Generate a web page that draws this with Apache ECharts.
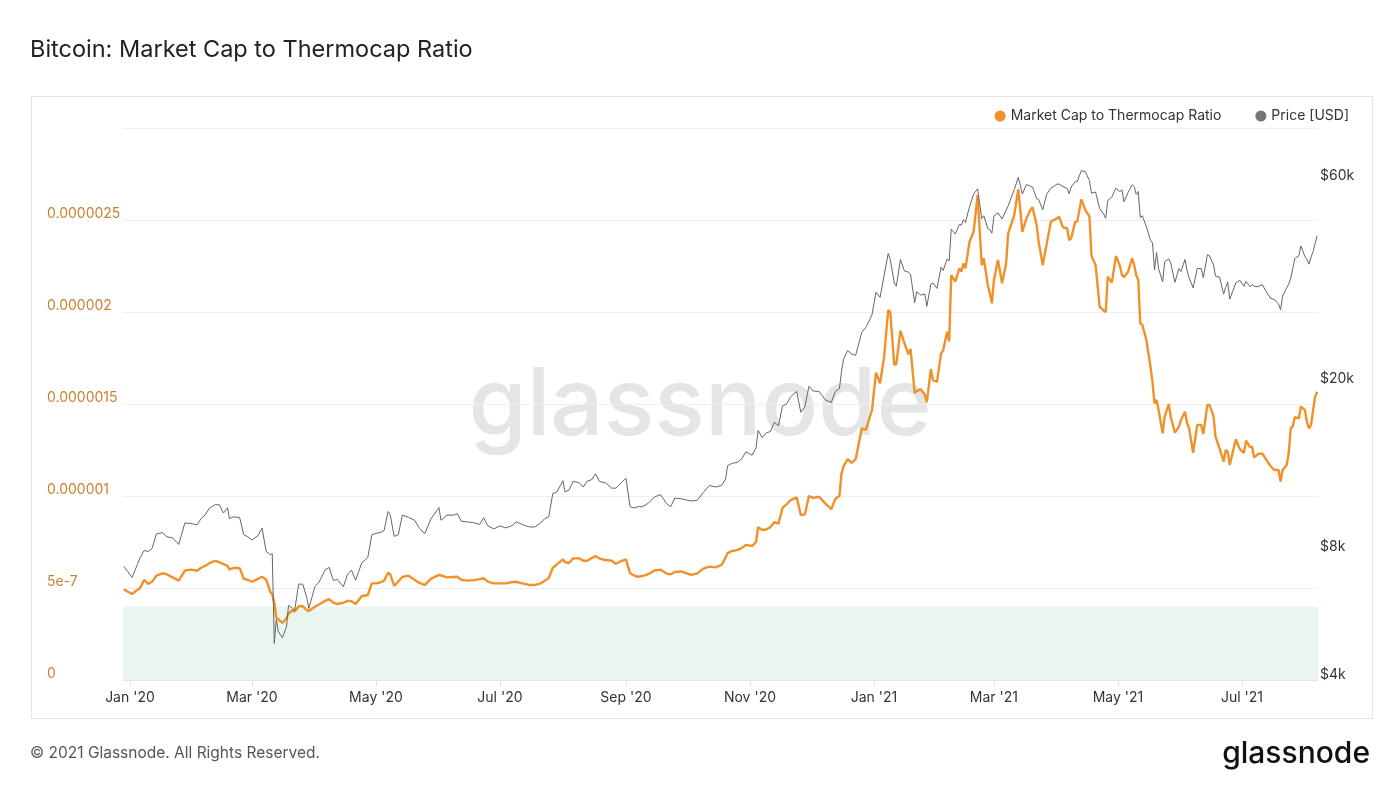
<!DOCTYPE html>
<html>
<head>
<meta charset="utf-8">
<title>Bitcoin: Market Cap to Thermocap Ratio</title>
<script src="https://cdn.jsdelivr.net/npm/echarts@6.0.0/dist/echarts.min.js"></script>
<style>
  html, body { margin: 0; padding: 0; background: #fff; }
  #chart { width: 1400px; height: 788px; }
</style>
</head>
<body>
<div id="chart"></div>
<script>
// values (price in USD, ratio in units of 1e-6)
var dates = [
  '2019-12-29','2019-12-31','2020-01-02','2020-01-04','2020-01-06','2020-01-08','2020-01-10','2020-01-12','2020-01-14','2020-01-17',
  '2020-01-19','2020-01-22','2020-01-25','2020-01-28','2020-01-31','2020-02-03','2020-02-05','2020-02-07','2020-02-09','2020-02-12',
  '2020-02-14','2020-02-16','2020-02-18','2020-02-19','2020-02-21','2020-02-24','2020-02-26','2020-02-28','2020-03-01','2020-03-04',
  '2020-03-06','2020-03-08','2020-03-10','2020-03-11','2020-03-12','2020-03-13','2020-03-14','2020-03-16','2020-03-18','2020-03-19',
  '2020-03-21','2020-03-22','2020-03-24','2020-03-26','2020-03-28','2020-03-29','2020-04-01','2020-04-03','2020-04-06','2020-04-08',
  '2020-04-10','2020-04-12','2020-04-15','2020-04-17','2020-04-19','2020-04-21','2020-04-24','2020-04-27','2020-04-29','2020-05-01',
  '2020-05-03','2020-05-05','2020-05-07','2020-05-08','2020-05-10','2020-05-12','2020-05-14','2020-05-17','2020-05-20','2020-05-22',
  '2020-05-25','2020-05-28','2020-06-01','2020-06-02','2020-06-05','2020-06-08','2020-06-10','2020-06-12','2020-06-15','2020-06-18',
  '2020-06-21','2020-06-23','2020-06-25','2020-06-28','2020-07-01','2020-07-04','2020-07-07','2020-07-09','2020-07-12','2020-07-15',
  '2020-07-18','2020-07-21','2020-07-23','2020-07-25','2020-07-27','2020-07-29','2020-08-01','2020-08-02','2020-08-04','2020-08-06',
  '2020-08-09','2020-08-11','2020-08-13','2020-08-15','2020-08-17','2020-08-19','2020-08-22','2020-08-25','2020-08-27','2020-08-30',
  '2020-09-01','2020-09-03','2020-09-05','2020-09-07','2020-09-09','2020-09-12','2020-09-15','2020-09-18','2020-09-21','2020-09-23',
  '2020-09-25','2020-09-28','2020-10-01','2020-10-03','2020-10-06','2020-10-09','2020-10-12','2020-10-15','2020-10-18','2020-10-20',
  '2020-10-21','2020-10-23','2020-10-26','2020-10-28','2020-10-30','2020-11-02','2020-11-04','2020-11-05','2020-11-07','2020-11-09',
  '2020-11-11','2020-11-13','2020-11-15','2020-11-17','2020-11-19','2020-11-21','2020-11-24','2020-11-26','2020-11-28','2020-11-30',
  '2020-12-02','2020-12-05','2020-12-08','2020-12-11','2020-12-13','2020-12-15','2020-12-16','2020-12-17','2020-12-19','2020-12-21',
  '2020-12-23','2020-12-26','2020-12-28','2020-12-31','2021-01-02','2021-01-04','2021-01-06','2021-01-08','2021-01-09','2021-01-11',
  '2021-01-12','2021-01-14','2021-01-16','2021-01-18','2021-01-19','2021-01-21','2021-01-22','2021-01-24','2021-01-26','2021-01-27',
  '2021-01-29','2021-01-30','2021-02-01','2021-02-03','2021-02-04','2021-02-06','2021-02-07','2021-02-08','2021-02-10','2021-02-12',
  '2021-02-13','2021-02-14','2021-02-15','2021-02-17','2021-02-19','2021-02-21','2021-02-23','2021-02-24','2021-02-26','2021-02-27',
  '2021-02-28','2021-03-01','2021-03-03','2021-03-05','2021-03-07','2021-03-08','2021-03-11','2021-03-13','2021-03-15','2021-03-17',
  '2021-03-19','2021-03-20','2021-03-22','2021-03-23','2021-03-25','2021-03-27','2021-03-29','2021-04-01','2021-04-02','2021-04-04',
  '2021-04-06','2021-04-07','2021-04-08','2021-04-10','2021-04-11','2021-04-13','2021-04-15','2021-04-17','2021-04-18','2021-04-20',
  '2021-04-22','2021-04-24','2021-04-25','2021-04-26','2021-04-28','2021-04-30','2021-05-02','2021-05-03','2021-05-04','2021-05-06',
  '2021-05-08','2021-05-09','2021-05-10','2021-05-11','2021-05-12','2021-05-13','2021-05-15','2021-05-17','2021-05-18','2021-05-19',
  '2021-05-20','2021-05-21','2021-05-23','2021-05-24','2021-05-26','2021-05-27','2021-05-29','2021-05-31','2021-06-01','2021-06-03',
  '2021-06-04','2021-06-05','2021-06-07','2021-06-09','2021-06-11','2021-06-12','2021-06-14','2021-06-15','2021-06-17','2021-06-18',
  '2021-06-20','2021-06-22','2021-06-23','2021-06-24','2021-06-25','2021-06-28','2021-06-30','2021-07-02','2021-07-03','2021-07-05',
  '2021-07-06','2021-07-07','2021-07-09','2021-07-11','2021-07-13','2021-07-15','2021-07-17','2021-07-19','2021-07-20','2021-07-21',
  '2021-07-23','2021-07-24','2021-07-25','2021-07-26','2021-07-27','2021-07-29','2021-07-30','2021-08-01','2021-08-02','2021-08-03',
  '2021-08-04','2021-08-05','2021-08-06','2021-08-07'
];

var price = [
  7400,7200,6980,7350,7770,8080,8030,8190,8840,8900,
  8700,8650,8350,9380,9350,9280,9610,9800,10150,10360,
  10350,9900,10180,9600,9700,9650,8800,8700,8550,8760,
  9120,8040,7900,7940,4880,5550,5200,5030,5340,6000,
  5900,5830,6730,6730,6250,5900,6640,6800,7270,7370,
  6870,6900,6640,7100,7260,6870,7550,7770,8800,8870,
  8900,9000,9980,9810,8720,8800,9790,9670,9520,9170,
  8840,9580,10200,9520,9790,9780,9870,9470,9430,9400,
  9300,9650,9240,9080,9230,9130,9250,9430,9300,9190,
  9170,9380,9600,9700,11000,11100,11800,11100,11220,11750,
  11680,11400,11780,11850,12250,11750,11660,11330,11330,11700,
  11950,10250,10170,10250,10240,10440,10800,10940,10420,10240,
  10740,10700,10620,10570,10600,11060,11500,11400,11500,11900,
  12800,12950,13050,13300,13800,13550,14100,15500,14900,15300,
  15400,16200,15900,17700,17900,18600,19150,17100,17600,19700,
  19200,19150,18300,18050,19150,19450,21300,22800,23900,23470,
  23300,26400,27100,29000,32800,31900,36000,40500,39200,34500,
  33900,39200,36800,36600,36100,31000,32900,32300,32500,30400,
  34300,34500,33500,37600,36900,39300,38900,46200,45000,47400,
  47200,48700,47900,52200,55900,57500,48900,49700,46300,46100,
  45200,49600,50500,48800,51200,52400,57300,61200,55900,58900,
  58300,58100,54500,54300,51300,55900,57700,59000,59000,58200,
  57600,56000,58100,59800,59800,63500,63100,60100,56200,56500,
  51700,50100,49000,54000,55000,57700,56600,57200,53600,56400,
  58800,58200,55800,56700,49200,49700,46800,43500,42900,37000,
  40700,37300,34700,38700,39300,38400,34600,37300,36700,39200,
  36900,35500,33600,37300,37300,35500,40200,40000,38100,35800,
  35600,32500,33700,34700,31600,34500,35000,33900,34800,33800,
  34200,33900,33800,34200,32900,31800,31500,30800,29800,32100,
  33600,34300,35400,37300,39400,40000,42200,39800,39200,38200,
  39700,40900,42800,44600
];

var ratioE6 = [
  0.493,0.480,0.467,0.485,0.500,0.545,0.522,0.535,0.567,0.580,
  0.575,0.558,0.540,0.595,0.600,0.594,0.610,0.620,0.635,0.647,
  0.640,0.630,0.620,0.600,0.610,0.607,0.550,0.545,0.534,0.550,
  0.561,0.545,0.480,0.465,0.420,0.340,0.330,0.310,0.335,0.360,
  0.380,0.372,0.400,0.402,0.380,0.375,0.398,0.410,0.430,0.440,
  0.420,0.413,0.420,0.430,0.428,0.413,0.455,0.462,0.525,0.525,
  0.530,0.540,0.583,0.575,0.511,0.535,0.560,0.567,0.545,0.530,
  0.516,0.550,0.571,0.568,0.558,0.560,0.561,0.545,0.540,0.543,
  0.548,0.553,0.535,0.525,0.525,0.525,0.532,0.534,0.525,0.518,
  0.516,0.525,0.540,0.553,0.610,0.628,0.656,0.640,0.636,0.661,
  0.661,0.648,0.648,0.662,0.674,0.660,0.652,0.648,0.632,0.648,
  0.656,0.580,0.568,0.561,0.565,0.575,0.595,0.600,0.578,0.575,
  0.587,0.590,0.580,0.572,0.578,0.605,0.616,0.612,0.625,0.665,
  0.690,0.700,0.707,0.718,0.734,0.728,0.750,0.830,0.815,0.818,
  0.830,0.858,0.850,0.935,0.955,0.978,0.993,0.897,0.900,1.000,
  0.990,0.996,0.960,0.928,0.985,1.000,1.120,1.160,1.200,1.180,
  1.200,1.368,1.360,1.467,1.670,1.613,1.757,2.011,2.000,1.712,
  1.717,1.898,1.830,1.770,1.800,1.560,1.570,1.580,1.550,1.510,
  1.690,1.630,1.620,1.775,1.790,1.893,1.840,2.200,2.165,2.237,
  2.219,2.264,2.237,2.382,2.436,2.636,2.255,2.292,2.147,2.100,
  2.047,2.174,2.283,2.156,2.264,2.427,2.527,2.667,2.436,2.509,
  2.554,2.569,2.473,2.382,2.255,2.373,2.491,2.509,2.518,2.460,
  2.455,2.391,2.400,2.491,2.491,2.612,2.554,2.518,2.304,2.255,
  2.029,2.007,2.000,2.192,2.160,2.304,2.250,2.200,2.190,2.219,
  2.292,2.255,2.200,2.174,1.939,1.930,1.848,1.703,1.620,1.504,
  1.522,1.467,1.341,1.431,1.500,1.431,1.344,1.377,1.413,1.458,
  1.395,1.368,1.235,1.386,1.386,1.337,1.495,1.495,1.435,1.322,
  1.259,1.187,1.250,1.241,1.168,1.308,1.254,1.235,1.301,1.265,
  1.268,1.210,1.228,1.232,1.196,1.163,1.141,1.141,1.078,1.141,
  1.168,1.232,1.368,1.377,1.428,1.422,1.486,1.467,1.400,1.368,
  1.386,1.467,1.540,1.567
];

var xLabelDates = ['2020-01-01','2020-03-01','2020-05-01','2020-07-01','2020-09-01','2020-11-01',
                   '2021-01-01','2021-03-01','2021-05-01','2021-07-01'];
var leftTickLabels = ['0', '5e-7', '0.000001', '0.0000015', '0.000002', '0.0000025', ''];
var priceTicks = [4000, 8000, 20000, 60000];
var monthNames = ['Jan','Feb','Mar','Apr','May','Jun','Jul','Aug','Sep','Oct','Nov','Dec'];
var bandTop = 4e-7;

var ORANGE = '#f0912a';
var GREY = '#666666';

function toTime(s) {
  var p = s.split('-');
  return new Date(+p[0], +p[1] - 1, +p[2]).getTime();
}

var ratioData = dates.map(function (d, i) { return [toTime(d), ratioE6[i] * 1e-6]; });
var priceData = dates.map(function (d, i) { return [toTime(d), price[i]]; });
var xTicks = xLabelDates.map(toTime);

var chart = echarts.init(document.getElementById('chart'));
chart.setOption({
  animation: false,
  backgroundColor: '#fff',
  textStyle: { fontFamily: 'Inter, "Noto Sans", sans-serif' },
  grid: { left: 123, right: 82, top: 128, bottom: 108 },
  graphic: [
    { type: 'text', left: 30, top: 38,
      style: { text: 'Bitcoin: Market Cap to Thermocap Ratio', fill: '#222', fontSize: 23.5,
               fontFamily: 'Inter, "Noto Sans", sans-serif' } },
    { type: 'rect', left: 29, top: 94, z: -10,
      shape: { width: 1341, height: 622 },
      style: { fill: 'none', stroke: '#e3e3e3', lineWidth: 1 } },
    { type: 'text', x: 700, y: 407, z: 0,
      style: { text: 'glassnode', fill: '#e5e5e5', fontSize: 94, fontWeight: 500,
               align: 'center', verticalAlign: 'middle',
               fontFamily: 'Inter, "Noto Sans", sans-serif' } },
    { type: 'text', left: 30, top: 745,
      style: { text: '\u00a9 2021 Glassnode. All Rights Reserved.', fill: '#555', fontSize: 15.5,
               fontFamily: 'Inter, "Noto Sans", sans-serif' } },
    { type: 'text', x: 1370, y: 754,
      style: { text: 'glassnode', fill: '#111', fontSize: 30, fontWeight: 500,
               align: 'right', verticalAlign: 'middle',
               fontFamily: 'Inter, "Noto Sans", sans-serif' } }
  ],
  legend: {
    right: 46, top: 104,
    icon: 'circle', itemWidth: 11, itemHeight: 11, itemGap: 34,
    textStyle: { fontSize: 14, color: '#333' },
    data: [
      { name: 'Market Cap to Thermocap Ratio', itemStyle: { color: ORANGE } },
      { name: 'Price [USD]', itemStyle: { color: '#777' } }
    ]
  },
  xAxis: {
    type: 'value',
    min: new Date(2019, 11, 28, 14).getTime(),
    max: new Date(2021, 7, 7, 10).getTime(),
    axisLine: { lineStyle: { color: '#e6e6e6' } },
    axisTick: { show: true, length: 6, customValues: xTicks,
                lineStyle: { color: '#e0e0e0' } },
    splitLine: { show: false },
    axisLabel: {
      customValues: xTicks,
      color: '#333', fontSize: 14, margin: 11,
      formatter: function (v) {
        var d = new Date(v);
        return monthNames[d.getMonth()] + " '" + String(d.getFullYear()).slice(2);
      }
    }
  },
  yAxis: [
    {
      type: 'value', min: 0, max: 3e-6, interval: 5e-7,
      axisLine: { show: false }, axisTick: { show: false },
      splitLine: { lineStyle: { color: '#efefef' } },
      axisLabel: {
        color: '#c8822f', fontSize: 14, align: 'left', margin: 76,
        verticalAlign: 'bottom', lineHeight: 13,
        formatter: function (v, i) { return leftTickLabels[i]; }
      }
    },
    {
      type: 'log', logBase: 10, min: 4000, max: 80000, position: 'right',
      axisLine: { show: false }, axisTick: { show: false },
      splitLine: { show: false },
      axisLabel: {
        customValues: priceTicks,
        color: '#333', fontSize: 14, align: 'left', margin: 2,
        verticalAlign: 'bottom', lineHeight: 10,
        formatter: function (v) { return '$' + Math.round(v / 1000) + 'k'; }
      }
    }
  ],
  series: [
    {
      name: 'Market Cap to Thermocap Ratio', type: 'line', yAxisIndex: 0,
      data: ratioData, showSymbol: false,
      lineStyle: { color: ORANGE, width: 2.4 }, itemStyle: { color: ORANGE },
      markArea: {
        silent: true,
        itemStyle: { color: '#e9f6ef' },
        data: [[{ yAxis: 0 }, { yAxis: bandTop }]]
      }
    },
    {
      name: 'Price [USD]', type: 'line', yAxisIndex: 1,
      data: priceData, showSymbol: false,
      lineStyle: { color: GREY, width: 1 }, itemStyle: { color: '#777' }
    }
  ]
});
</script>
</body>
</html>
